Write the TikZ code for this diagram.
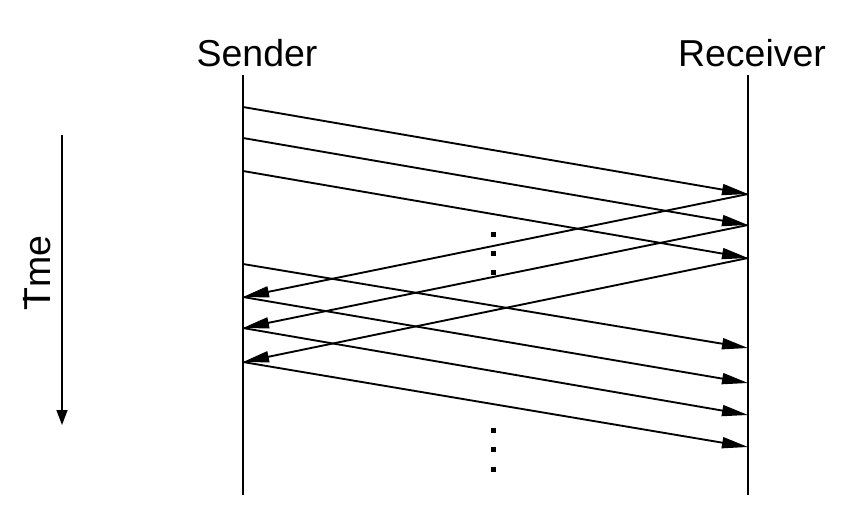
\documentclass[tikz,border=0pt]{standalone}
\usepackage{fontspec}
\setmainfont{Liberation Sans}
\usetikzlibrary{arrows.meta}

\begin{document}
\begin{tikzpicture}[x=0.03cm,y=-0.03cm,>={Triangle[length=0.78cm,width=0.33cm]},
  msg/.style={->,line width=1.6pt},
  life/.style={line width=1.6pt},
  dotsq/.style={fill=black,inner sep=0pt,minimum size=0.15cm}]
\useasboundingbox (0,0) rectangle (864,512);
% labels
\node[anchor=base,font=\fontsize{32}{34}\selectfont] (snd) at (257,67) {Sender};
\node[anchor=base,font=\fontsize{32}{34}\selectfont] (rcv) at (752,67) {Receiver};
\node[rotate=90,font=\fontsize{32}{34}\selectfont] (tm) at (37,273) {T\rlap{\kern-0.416em i}me};
% time axis
\coordinate (t0) at (62,135);
\coordinate (t1) at (62,425);
\draw[-{Triangle[length=0.45cm,width=0.33cm]},line width=1.2pt](t0)--(t1);
% lifelines
\coordinate (s0) at (243,75);
\coordinate (s9) at (243,495);
\coordinate (r0) at (748,75);
\coordinate (r9) at (748,495);
\draw[life](s0)--(s9);
\draw[life](r0)--(r9);
% points on sender
\coordinate (s1) at (243,107);
\coordinate (s2) at (243,138);
\coordinate (s3) at (243,171);
\coordinate (s4) at (243,264);
\coordinate (s5) at (243,297);
\coordinate (s6) at (243,328);
\coordinate (s7) at (243,362);
% points on receiver
\coordinate (r1) at (748,194);
\coordinate (r2) at (748,225);
\coordinate (r3) at (748,258);
\coordinate (r4) at (748,348);
\coordinate (r5) at (748,383);
\coordinate (r6) at (748,415);
\coordinate (r7) at (748,447);
% first window
\draw[msg](s1)--(r1);
\draw[msg](s2)--(r2);
\draw[msg](s3)--(r3);
% acks
\draw[msg](r1)--(s5);
\draw[msg](r2)--(s6);
\draw[msg](r3)--(s7);
% next segments
\draw[msg](s4)--(r4);
\draw[msg](s5)--(r5);
\draw[msg](s6)--(r6);
\draw[msg](s7)--(r7);
% dots
\node[dotsq] (d1) at (493,235) {};
\node[dotsq] (d2) at (493,254) {};
\node[dotsq] (d3) at (493,273) {};
\node[dotsq] (d4) at (493,430) {};
\node[dotsq] (d5) at (493,449) {};
\node[dotsq] (d6) at (493,469) {};
\end{tikzpicture}
\end{document}
